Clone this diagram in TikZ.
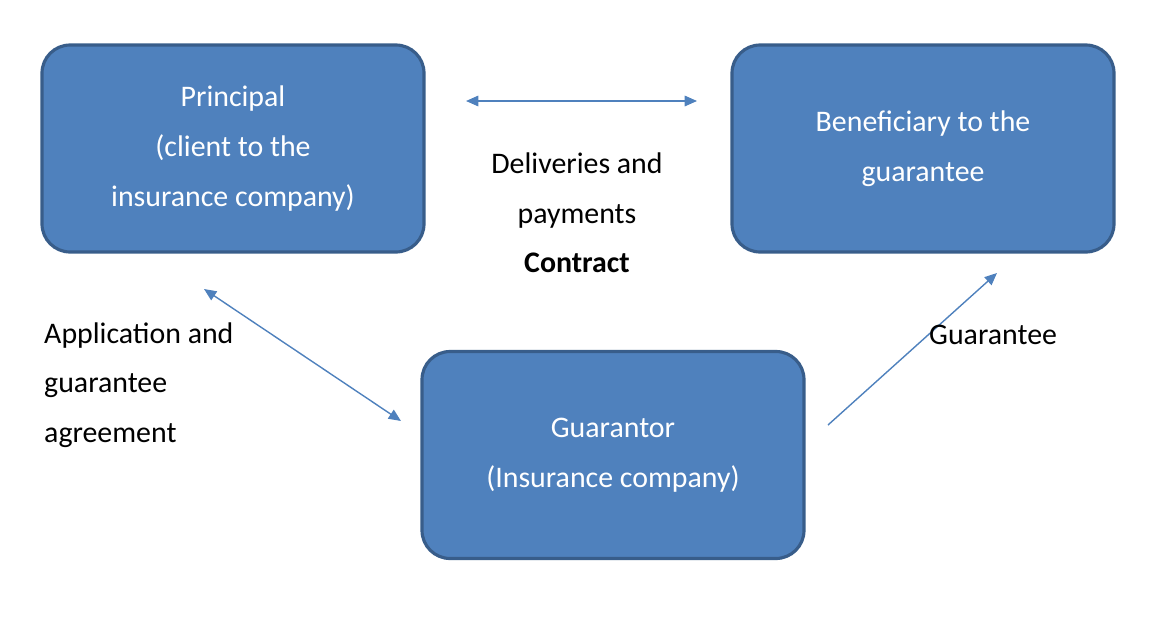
\documentclass[tikz,border=0pt]{standalone}
\usepackage{fontspec}
\setmainfont{Carlito}
\usetikzlibrary{arrows.meta}
\definecolor{boxfill}{HTML}{4F81BD}
\definecolor{boxline}{HTML}{385D8A}
\begin{document}
\begin{tikzpicture}[x=0.02cm,y=-0.02cm,
  box/.style={draw=boxline,line width=1.8pt,fill=boxfill,rounded corners=16pt,minimum width=382*0.02cm,minimum height=207*0.02cm,text=white,align=center,font=\fontsize{17}{28.3}\selectfont},
  lbl/.style={align=center,font=\fontsize{17}{28.3}\selectfont},
  conn/.style={draw=boxfill,line width=0.8pt,-{Triangle[length=7pt,width=6pt]}}]
\useasboundingbox (0,0) rectangle (1154,626);
\node[box] (p) at (233,148.5) {Principal\\(client to the\\insurance company)};
\node[box] (b) at (923,148.5) {Beneficiary to the\\guarantee};
\node[box] (g) at (613,455) {Guarantor\\(Insurance company)};
\coordinate (t1) at (466,101); \coordinate (t2) at (697,101);
\coordinate (l1) at (204,289); \coordinate (l2) at (401,421);
\coordinate (r1) at (828,425); \coordinate (r2) at (997,273);
\draw[conn,{Triangle[length=7pt,width=6pt]}-{Triangle[length=7pt,width=6pt]}] (t1) -- (t2);
\draw[conn,{Triangle[length=7pt,width=6pt]}-{Triangle[length=7pt,width=6pt]}] (l1) -- (l2);
\draw[conn] (r1) -- (r2);
\node[lbl] (c) at (577,213) {Deliveries and\\payments\\\textbf{Contract}};
\node[lbl,align=left,anchor=west] (a) at (38,385) {Application and\\guarantee\\agreement};
\node[lbl,anchor=west] (gt) at (923,335) {Guarantee};
\end{tikzpicture}
\end{document}
